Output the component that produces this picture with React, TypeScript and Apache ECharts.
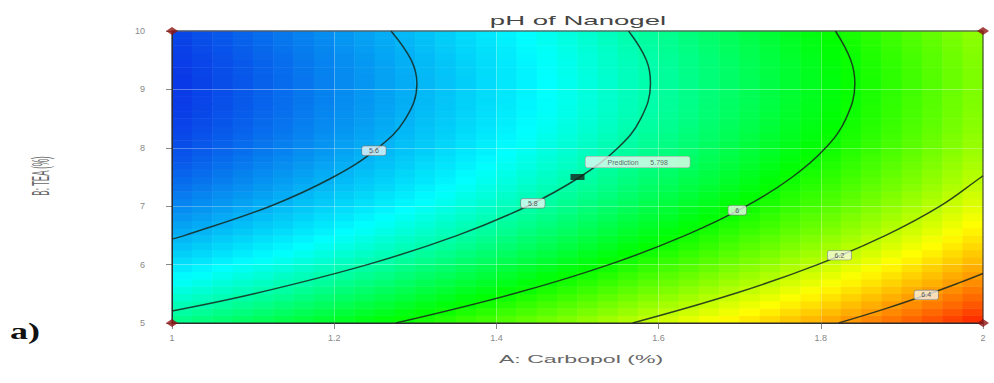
import React, { useEffect, useRef } from 'react';
import * as echarts from 'echarts';

// Cell centres of the response-surface colour field
const carbopolCenters = [1.0125, 1.0375, 1.0625, 1.0875, 1.1125, 1.1375, 1.1625, 1.1875, 1.2125, 1.2375,
  1.2625, 1.2875, 1.3125, 1.3375, 1.3625, 1.3875, 1.4125, 1.4375, 1.4625, 1.4875,
  1.5125, 1.5375, 1.5625, 1.5875, 1.6125, 1.6375, 1.6625, 1.6875, 1.7125, 1.7375,
  1.7625, 1.7875, 1.8125, 1.8375, 1.8625, 1.8875, 1.9125, 1.9375, 1.9625, 1.9875];
const bCenters = [5.0625, 5.1875, 5.3125, 5.4375, 5.5625, 5.6875, 5.8125, 5.9375, 6.0625, 6.1875,
  6.3125, 6.4375, 6.5625, 6.6875, 6.8125, 6.9375, 7.0625, 7.1875, 7.3125, 7.4375,
  7.5625, 7.6875, 7.8125, 7.9375, 8.0625, 8.1875, 8.3125, 8.4375, 8.5625, 8.6875,
  8.8125, 8.9375, 9.0625, 9.1875, 9.3125, 9.4375, 9.5625, 9.6875, 9.8125, 9.9375];

// pH, one row per B centre (bottom to top)
const phRow01 = [5.835, 5.848, 5.862, 5.876, 5.890, 5.904, 5.919, 5.934, 5.949, 5.964, 5.979, 5.995, 6.011, 6.027, 6.044, 6.060, 6.077, 6.094, 6.112, 6.129, 6.147, 6.165, 6.184, 6.202, 6.221, 6.240, 6.259, 6.279, 6.298, 6.318, 6.339, 6.359, 6.380, 6.401, 6.422, 6.443, 6.465, 6.486, 6.509, 6.531];
const phRow02 = [5.810, 5.823, 5.837, 5.851, 5.865, 5.879, 5.894, 5.909, 5.924, 5.939, 5.954, 5.970, 5.986, 6.002, 6.019, 6.035, 6.052, 6.069, 6.087, 6.104, 6.122, 6.140, 6.159, 6.177, 6.196, 6.215, 6.234, 6.254, 6.273, 6.293, 6.314, 6.334, 6.355, 6.376, 6.397, 6.418, 6.440, 6.461, 6.484, 6.506];
const phRow03 = [5.786, 5.799, 5.813, 5.827, 5.841, 5.855, 5.870, 5.885, 5.900, 5.915, 5.930, 5.946, 5.962, 5.978, 5.995, 6.011, 6.028, 6.045, 6.063, 6.080, 6.098, 6.116, 6.135, 6.153, 6.172, 6.191, 6.210, 6.230, 6.249, 6.269, 6.290, 6.310, 6.331, 6.352, 6.373, 6.394, 6.416, 6.437, 6.460, 6.482];
const phRow04 = [5.763, 5.776, 5.790, 5.804, 5.818, 5.832, 5.847, 5.862, 5.877, 5.892, 5.907, 5.923, 5.939, 5.955, 5.972, 5.988, 6.005, 6.022, 6.040, 6.057, 6.075, 6.093, 6.112, 6.130, 6.149, 6.168, 6.187, 6.207, 6.226, 6.246, 6.267, 6.287, 6.308, 6.329, 6.350, 6.371, 6.393, 6.414, 6.437, 6.459];
const phRow05 = [5.741, 5.754, 5.768, 5.782, 5.796, 5.810, 5.825, 5.840, 5.855, 5.870, 5.885, 5.901, 5.917, 5.933, 5.950, 5.966, 5.983, 6.000, 6.018, 6.035, 6.053, 6.071, 6.090, 6.108, 6.127, 6.146, 6.165, 6.185, 6.204, 6.224, 6.245, 6.265, 6.286, 6.307, 6.328, 6.349, 6.371, 6.392, 6.415, 6.437];
const phRow06 = [5.719, 5.732, 5.746, 5.760, 5.774, 5.788, 5.803, 5.818, 5.833, 5.848, 5.863, 5.879, 5.895, 5.911, 5.928, 5.944, 5.961, 5.978, 5.996, 6.013, 6.031, 6.049, 6.068, 6.086, 6.105, 6.124, 6.143, 6.163, 6.182, 6.202, 6.223, 6.243, 6.264, 6.285, 6.306, 6.327, 6.349, 6.370, 6.393, 6.415];
const phRow07 = [5.699, 5.712, 5.726, 5.740, 5.754, 5.768, 5.783, 5.798, 5.813, 5.828, 5.843, 5.859, 5.875, 5.891, 5.908, 5.924, 5.941, 5.958, 5.976, 5.993, 6.011, 6.029, 6.048, 6.066, 6.085, 6.104, 6.123, 6.143, 6.162, 6.182, 6.203, 6.223, 6.244, 6.265, 6.286, 6.307, 6.329, 6.350, 6.373, 6.395];
const phRow08 = [5.679, 5.692, 5.706, 5.720, 5.734, 5.748, 5.763, 5.778, 5.793, 5.808, 5.823, 5.839, 5.855, 5.871, 5.888, 5.904, 5.921, 5.938, 5.956, 5.973, 5.991, 6.009, 6.028, 6.046, 6.065, 6.084, 6.103, 6.123, 6.142, 6.162, 6.183, 6.203, 6.224, 6.245, 6.266, 6.287, 6.309, 6.330, 6.353, 6.375];
const phRow09 = [5.659, 5.672, 5.686, 5.700, 5.714, 5.728, 5.743, 5.758, 5.773, 5.788, 5.803, 5.819, 5.835, 5.851, 5.868, 5.884, 5.901, 5.918, 5.936, 5.953, 5.971, 5.989, 6.008, 6.026, 6.045, 6.064, 6.083, 6.103, 6.122, 6.142, 6.163, 6.183, 6.204, 6.225, 6.246, 6.267, 6.289, 6.310, 6.333, 6.355];
const phRow10 = [5.641, 5.654, 5.668, 5.682, 5.696, 5.710, 5.725, 5.740, 5.755, 5.770, 5.785, 5.801, 5.817, 5.833, 5.850, 5.866, 5.883, 5.900, 5.918, 5.935, 5.953, 5.971, 5.990, 6.008, 6.027, 6.046, 6.065, 6.085, 6.104, 6.124, 6.145, 6.165, 6.186, 6.207, 6.228, 6.249, 6.271, 6.292, 6.315, 6.337];
const phRow11 = [5.623, 5.636, 5.650, 5.664, 5.678, 5.692, 5.707, 5.722, 5.737, 5.752, 5.767, 5.783, 5.799, 5.815, 5.832, 5.848, 5.865, 5.882, 5.900, 5.917, 5.935, 5.953, 5.972, 5.990, 6.009, 6.028, 6.047, 6.067, 6.086, 6.106, 6.127, 6.147, 6.168, 6.189, 6.210, 6.231, 6.253, 6.274, 6.297, 6.319];
const phRow12 = [5.607, 5.620, 5.634, 5.648, 5.662, 5.676, 5.691, 5.706, 5.721, 5.736, 5.751, 5.767, 5.783, 5.799, 5.816, 5.832, 5.849, 5.866, 5.884, 5.901, 5.919, 5.937, 5.956, 5.974, 5.993, 6.012, 6.031, 6.051, 6.070, 6.090, 6.111, 6.131, 6.152, 6.173, 6.194, 6.215, 6.237, 6.258, 6.281, 6.303];
const phRow13 = [5.590, 5.603, 5.617, 5.631, 5.645, 5.659, 5.674, 5.689, 5.704, 5.719, 5.734, 5.750, 5.766, 5.782, 5.799, 5.815, 5.832, 5.849, 5.867, 5.884, 5.902, 5.920, 5.939, 5.957, 5.976, 5.995, 6.014, 6.034, 6.053, 6.073, 6.094, 6.114, 6.135, 6.156, 6.177, 6.198, 6.220, 6.241, 6.264, 6.286];
const phRow14 = [5.575, 5.588, 5.602, 5.616, 5.630, 5.644, 5.659, 5.674, 5.689, 5.704, 5.719, 5.735, 5.751, 5.767, 5.784, 5.800, 5.817, 5.834, 5.852, 5.869, 5.887, 5.905, 5.924, 5.942, 5.961, 5.980, 5.999, 6.019, 6.038, 6.058, 6.079, 6.099, 6.120, 6.141, 6.162, 6.183, 6.205, 6.226, 6.249, 6.271];
const phRow15 = [5.561, 5.574, 5.588, 5.602, 5.616, 5.630, 5.645, 5.660, 5.675, 5.690, 5.705, 5.721, 5.737, 5.753, 5.770, 5.786, 5.803, 5.820, 5.838, 5.855, 5.873, 5.891, 5.910, 5.928, 5.947, 5.966, 5.985, 6.005, 6.024, 6.044, 6.065, 6.085, 6.106, 6.127, 6.148, 6.169, 6.191, 6.212, 6.235, 6.257];
const phRow16 = [5.547, 5.560, 5.574, 5.588, 5.602, 5.616, 5.631, 5.646, 5.661, 5.676, 5.691, 5.707, 5.723, 5.739, 5.756, 5.772, 5.789, 5.806, 5.824, 5.841, 5.859, 5.877, 5.896, 5.914, 5.933, 5.952, 5.971, 5.991, 6.010, 6.030, 6.051, 6.071, 6.092, 6.113, 6.134, 6.155, 6.177, 6.198, 6.221, 6.243];
const phRow17 = [5.534, 5.547, 5.561, 5.575, 5.589, 5.603, 5.618, 5.633, 5.648, 5.663, 5.678, 5.694, 5.710, 5.726, 5.743, 5.759, 5.776, 5.793, 5.811, 5.828, 5.846, 5.864, 5.883, 5.901, 5.920, 5.939, 5.958, 5.978, 5.997, 6.017, 6.038, 6.058, 6.079, 6.100, 6.121, 6.142, 6.164, 6.185, 6.208, 6.230];
const phRow18 = [5.522, 5.535, 5.549, 5.563, 5.577, 5.591, 5.606, 5.621, 5.636, 5.651, 5.666, 5.682, 5.698, 5.714, 5.731, 5.747, 5.764, 5.781, 5.799, 5.816, 5.834, 5.852, 5.871, 5.889, 5.908, 5.927, 5.946, 5.966, 5.985, 6.005, 6.026, 6.046, 6.067, 6.088, 6.109, 6.130, 6.152, 6.173, 6.196, 6.218];
const phRow19 = [5.510, 5.523, 5.537, 5.551, 5.565, 5.579, 5.594, 5.609, 5.624, 5.639, 5.654, 5.670, 5.686, 5.702, 5.719, 5.735, 5.752, 5.769, 5.787, 5.804, 5.822, 5.840, 5.859, 5.877, 5.896, 5.915, 5.934, 5.954, 5.973, 5.993, 6.014, 6.034, 6.055, 6.076, 6.097, 6.118, 6.140, 6.161, 6.184, 6.206];
const phRow20 = [5.499, 5.512, 5.526, 5.540, 5.554, 5.568, 5.583, 5.598, 5.613, 5.628, 5.643, 5.659, 5.675, 5.691, 5.708, 5.724, 5.741, 5.758, 5.776, 5.793, 5.811, 5.829, 5.848, 5.866, 5.885, 5.904, 5.923, 5.943, 5.962, 5.982, 6.003, 6.023, 6.044, 6.065, 6.086, 6.107, 6.129, 6.150, 6.173, 6.195];
const phRow21 = [5.490, 5.503, 5.517, 5.531, 5.545, 5.559, 5.574, 5.589, 5.604, 5.619, 5.634, 5.650, 5.666, 5.682, 5.699, 5.715, 5.732, 5.749, 5.767, 5.784, 5.802, 5.820, 5.839, 5.857, 5.876, 5.895, 5.914, 5.934, 5.953, 5.973, 5.994, 6.014, 6.035, 6.056, 6.077, 6.098, 6.120, 6.141, 6.164, 6.186];
const phRow22 = [5.480, 5.493, 5.507, 5.521, 5.535, 5.549, 5.564, 5.579, 5.594, 5.609, 5.624, 5.640, 5.656, 5.672, 5.689, 5.705, 5.722, 5.739, 5.757, 5.774, 5.792, 5.810, 5.829, 5.847, 5.866, 5.885, 5.904, 5.924, 5.943, 5.963, 5.984, 6.004, 6.025, 6.046, 6.067, 6.088, 6.110, 6.131, 6.154, 6.176];
const phRow23 = [5.472, 5.485, 5.499, 5.513, 5.527, 5.541, 5.556, 5.571, 5.586, 5.601, 5.616, 5.632, 5.648, 5.664, 5.681, 5.697, 5.714, 5.731, 5.749, 5.766, 5.784, 5.802, 5.821, 5.839, 5.858, 5.877, 5.896, 5.916, 5.935, 5.955, 5.976, 5.996, 6.017, 6.038, 6.059, 6.080, 6.102, 6.123, 6.146, 6.168];
const phRow24 = [5.464, 5.477, 5.491, 5.505, 5.519, 5.533, 5.548, 5.563, 5.578, 5.593, 5.608, 5.624, 5.640, 5.656, 5.673, 5.689, 5.706, 5.723, 5.741, 5.758, 5.776, 5.794, 5.813, 5.831, 5.850, 5.869, 5.888, 5.908, 5.927, 5.947, 5.968, 5.988, 6.009, 6.030, 6.051, 6.072, 6.094, 6.115, 6.138, 6.160];
const phRow25 = [5.458, 5.471, 5.485, 5.499, 5.513, 5.527, 5.542, 5.557, 5.572, 5.587, 5.602, 5.618, 5.634, 5.650, 5.667, 5.683, 5.700, 5.717, 5.735, 5.752, 5.770, 5.788, 5.807, 5.825, 5.844, 5.863, 5.882, 5.902, 5.921, 5.941, 5.962, 5.982, 6.003, 6.024, 6.045, 6.066, 6.088, 6.109, 6.132, 6.154];
const phRow26 = [5.452, 5.465, 5.479, 5.493, 5.507, 5.521, 5.536, 5.551, 5.566, 5.581, 5.596, 5.612, 5.628, 5.644, 5.661, 5.677, 5.694, 5.711, 5.729, 5.746, 5.764, 5.782, 5.801, 5.819, 5.838, 5.857, 5.876, 5.896, 5.915, 5.935, 5.956, 5.976, 5.997, 6.018, 6.039, 6.060, 6.082, 6.103, 6.126, 6.148];
const phRow27 = [5.446, 5.459, 5.473, 5.487, 5.501, 5.515, 5.530, 5.545, 5.560, 5.575, 5.590, 5.606, 5.622, 5.638, 5.655, 5.671, 5.688, 5.705, 5.723, 5.740, 5.758, 5.776, 5.795, 5.813, 5.832, 5.851, 5.870, 5.890, 5.909, 5.929, 5.950, 5.970, 5.991, 6.012, 6.033, 6.054, 6.076, 6.097, 6.120, 6.142];
const phRow28 = [5.442, 5.455, 5.469, 5.483, 5.497, 5.511, 5.526, 5.541, 5.556, 5.571, 5.586, 5.602, 5.618, 5.634, 5.651, 5.667, 5.684, 5.701, 5.719, 5.736, 5.754, 5.772, 5.791, 5.809, 5.828, 5.847, 5.866, 5.886, 5.905, 5.925, 5.946, 5.966, 5.987, 6.008, 6.029, 6.050, 6.072, 6.093, 6.116, 6.138];
const phRow29 = [5.438, 5.451, 5.465, 5.479, 5.493, 5.507, 5.522, 5.537, 5.552, 5.567, 5.582, 5.598, 5.614, 5.630, 5.647, 5.663, 5.680, 5.697, 5.715, 5.732, 5.750, 5.768, 5.787, 5.805, 5.824, 5.843, 5.862, 5.882, 5.901, 5.921, 5.942, 5.962, 5.983, 6.004, 6.025, 6.046, 6.068, 6.089, 6.112, 6.134];
const phRow30 = [5.435, 5.448, 5.462, 5.476, 5.490, 5.504, 5.519, 5.534, 5.549, 5.564, 5.579, 5.595, 5.611, 5.627, 5.644, 5.660, 5.677, 5.694, 5.712, 5.729, 5.747, 5.765, 5.784, 5.802, 5.821, 5.840, 5.859, 5.879, 5.898, 5.918, 5.939, 5.959, 5.980, 6.001, 6.022, 6.043, 6.065, 6.086, 6.109, 6.131];
const phRow31 = [5.433, 5.446, 5.460, 5.474, 5.488, 5.502, 5.517, 5.532, 5.547, 5.562, 5.577, 5.593, 5.609, 5.625, 5.642, 5.658, 5.675, 5.692, 5.710, 5.727, 5.745, 5.763, 5.782, 5.800, 5.819, 5.838, 5.857, 5.877, 5.896, 5.916, 5.937, 5.957, 5.978, 5.999, 6.020, 6.041, 6.063, 6.084, 6.107, 6.129];
const phRow32 = [5.432, 5.445, 5.459, 5.473, 5.487, 5.501, 5.516, 5.531, 5.546, 5.561, 5.576, 5.592, 5.608, 5.624, 5.641, 5.657, 5.674, 5.691, 5.709, 5.726, 5.744, 5.762, 5.781, 5.799, 5.818, 5.837, 5.856, 5.876, 5.895, 5.915, 5.936, 5.956, 5.977, 5.998, 6.019, 6.040, 6.062, 6.083, 6.106, 6.128];
const phRow33 = [5.431, 5.444, 5.458, 5.472, 5.486, 5.500, 5.515, 5.530, 5.545, 5.560, 5.575, 5.591, 5.607, 5.623, 5.640, 5.656, 5.673, 5.690, 5.708, 5.725, 5.743, 5.761, 5.780, 5.798, 5.817, 5.836, 5.855, 5.875, 5.894, 5.914, 5.935, 5.955, 5.976, 5.997, 6.018, 6.039, 6.061, 6.082, 6.105, 6.127];
const phRow34 = [5.431, 5.444, 5.458, 5.472, 5.486, 5.500, 5.515, 5.530, 5.545, 5.560, 5.575, 5.591, 5.607, 5.623, 5.640, 5.656, 5.673, 5.690, 5.708, 5.725, 5.743, 5.761, 5.780, 5.798, 5.817, 5.836, 5.855, 5.875, 5.894, 5.914, 5.935, 5.955, 5.976, 5.997, 6.018, 6.039, 6.061, 6.082, 6.105, 6.127];
const phRow35 = [5.432, 5.445, 5.459, 5.473, 5.487, 5.501, 5.516, 5.531, 5.546, 5.561, 5.576, 5.592, 5.608, 5.624, 5.641, 5.657, 5.674, 5.691, 5.709, 5.726, 5.744, 5.762, 5.781, 5.799, 5.818, 5.837, 5.856, 5.876, 5.895, 5.915, 5.936, 5.956, 5.977, 5.998, 6.019, 6.040, 6.062, 6.083, 6.106, 6.128];
const phRow36 = [5.434, 5.447, 5.461, 5.475, 5.489, 5.503, 5.518, 5.533, 5.548, 5.563, 5.578, 5.594, 5.610, 5.626, 5.643, 5.659, 5.676, 5.693, 5.711, 5.728, 5.746, 5.764, 5.783, 5.801, 5.820, 5.839, 5.858, 5.878, 5.897, 5.917, 5.938, 5.958, 5.979, 6.000, 6.021, 6.042, 6.064, 6.085, 6.108, 6.130];
const phRow37 = [5.436, 5.449, 5.463, 5.477, 5.491, 5.505, 5.520, 5.535, 5.550, 5.565, 5.580, 5.596, 5.612, 5.628, 5.645, 5.661, 5.678, 5.695, 5.713, 5.730, 5.748, 5.766, 5.785, 5.803, 5.822, 5.841, 5.860, 5.880, 5.899, 5.919, 5.940, 5.960, 5.981, 6.002, 6.023, 6.044, 6.066, 6.087, 6.110, 6.132];
const phRow38 = [5.440, 5.453, 5.467, 5.481, 5.495, 5.509, 5.524, 5.539, 5.554, 5.569, 5.584, 5.600, 5.616, 5.632, 5.649, 5.665, 5.682, 5.699, 5.717, 5.734, 5.752, 5.770, 5.789, 5.807, 5.826, 5.845, 5.864, 5.884, 5.903, 5.923, 5.944, 5.964, 5.985, 6.006, 6.027, 6.048, 6.070, 6.091, 6.114, 6.136];
const phRow39 = [5.444, 5.457, 5.471, 5.485, 5.499, 5.513, 5.528, 5.543, 5.558, 5.573, 5.588, 5.604, 5.620, 5.636, 5.653, 5.669, 5.686, 5.703, 5.721, 5.738, 5.756, 5.774, 5.793, 5.811, 5.830, 5.849, 5.868, 5.888, 5.907, 5.927, 5.948, 5.968, 5.989, 6.010, 6.031, 6.052, 6.074, 6.095, 6.118, 6.140];
const phRow40 = [5.448, 5.461, 5.475, 5.489, 5.503, 5.517, 5.532, 5.547, 5.562, 5.577, 5.592, 5.608, 5.624, 5.640, 5.657, 5.673, 5.690, 5.707, 5.725, 5.742, 5.760, 5.778, 5.797, 5.815, 5.834, 5.853, 5.872, 5.892, 5.911, 5.931, 5.952, 5.972, 5.993, 6.014, 6.035, 6.056, 6.078, 6.099, 6.122, 6.144];
const phGrid = [phRow01, phRow02, phRow03, phRow04, phRow05, phRow06, phRow07, phRow08, phRow09, phRow10,
  phRow11, phRow12, phRow13, phRow14, phRow15, phRow16, phRow17, phRow18, phRow19, phRow20,
  phRow21, phRow22, phRow23, phRow24, phRow25, phRow26, phRow27, phRow28, phRow29, phRow30,
  phRow31, phRow32, phRow33, phRow34, phRow35, phRow36, phRow37, phRow38, phRow39, phRow40];

// Contour lines (A, B)
const contourLevels = ['5.6', '5.8', '6', '6.2', '6.4'];
const contour1A = [1.270, 1.295, 1.302, 1.288, 1.254, 1.199, 1.121, 1.016, 1.0];
const contour1B = [10, 9.5, 9.1, 8.5, 8, 7.5, 7, 6.5, 6.436];
const contour2A = [1.563, 1.585, 1.590, 1.578, 1.550, 1.503, 1.438, 1.352, 1.241, 1.101, 1.0];
const contour2B = [10, 9.5, 9.1, 8.5, 8, 7.5, 7, 6.5, 6, 5.5, 5.205];
const contour3A = [1.818, 1.837, 1.842, 1.831, 1.806, 1.765, 1.708, 1.633, 1.539, 1.421, 1.276];
const contour3B = [10, 9.5, 9.1, 8.5, 8, 7.5, 7, 6.5, 6, 5.5, 5];
const contour4A = [2.0, 1.998, 1.947, 1.880, 1.796, 1.693, 1.568];
const contour4B = [7.518, 7.5, 7, 6.5, 6, 5.5, 5];
const contour5A = [2.0, 1.973, 1.934, 1.881, 1.822];
const contour5B = [5.847, 5.7, 5.5, 5.25, 5];
const labelA = [1.249, 1.445, 1.697, 1.823, 1.930];
const labelB = [7.95, 7.05, 6.93, 6.16, 5.48];

const designA = [1, 1, 2, 2];
const designB = [5, 10, 5, 10];
const centerA = 1.5;
const centerB = 7.5;
const predictionValue = '5.798';

const xTickLabels = ['1', '1.2', '1.4', '1.6', '1.8', '2'];
const yTickLabels = ['5', '6', '7', '8', '9', '10'];

const FONT = 'Liberation Sans, Arial, sans-serif';

export default function App() {
  const ref = useRef<HTMLDivElement>(null);
  useEffect(() => {
    document.body.style.margin = '0';
    if (!ref.current) return;
    const chart = echarts.init(ref.current, undefined, { renderer: 'svg' });

    const heatData: number[][] = [];
    phGrid.forEach((row, j) => row.forEach((v, i) => heatData.push([i, j, v])));
    const contours = [
      [contour1A, contour1B], [contour2A, contour2B], [contour3A, contour3B],
      [contour4A, contour4B], [contour5A, contour5B],
    ];
    const lineStyle = { color: 'rgba(22,40,30,0.85)', width: 1.5 };

    chart.setOption({
      animation: false,
      grid: { left: 172, right: 11, top: 31, bottom: 60, show: true, z: 5, backgroundColor: 'transparent', borderColor: '#2a2a2a', borderWidth: 1 },
      visualMap: {
        show: false, type: 'continuous', seriesIndex: 0, dimension: 2,
        min: 5.424, max: 6.554,
        inRange: { color: ['#0a35e6', '#00ffff', '#00ff00', '#ffff00', '#ff1e00'] },
      },
      xAxis: [
        {
          type: 'value', min: 1, max: 2, interval: 0.2, z: 2,
          axisLine: { show: true, lineStyle: { color: '#333' } },
          axisTick: { show: true, length: 6, lineStyle: { color: '#888' } },
          axisLabel: { fontSize: 9, color: '#888', margin: 10, fontFamily: FONT,
            formatter: (v: number) => xTickLabels[Math.round((v - 1) / 0.2)] ?? '' },
          splitLine: { show: true, lineStyle: { color: 'rgba(255,255,255,0.3)', width: 1 } },
        },
        { type: 'category', data: carbopolCenters.map(String), show: false },
      ],
      yAxis: [
        {
          type: 'value', min: 5, max: 10, interval: 1, z: 2,
          axisLine: { show: true, lineStyle: { color: '#333' } },
          axisTick: { show: true, length: 6, lineStyle: { color: '#888' } },
          axisLabel: { fontSize: 9, color: '#888', margin: 27, fontFamily: FONT,
            formatter: (v: number) => yTickLabels[Math.round(v - 5)] ?? '' },
          splitLine: { show: true, lineStyle: { color: 'rgba(255,255,255,0.3)', width: 1 } },
        },
        { type: 'category', data: bCenters.map(String), show: false },
      ],
      graphic: [
        { type: 'text', x: 578, y: 21, scaleX: 2.3, z: 10,
          style: { text: 'pH of Nanogel', fontSize: 12, fill: '#444', fontFamily: FONT, align: 'center', verticalAlign: 'middle' } },
        { type: 'text', x: 581, y: 359, scaleX: 2.1, z: 10,
          style: { text: 'A: Carbopol (%)', fontSize: 11, fill: '#666', fontFamily: FONT, align: 'center', verticalAlign: 'middle' } },
        { type: 'text', x: 41, y: 176, rotation: Math.PI / 2, scaleY: 3, z: 10,
          style: { text: 'B: TEA (%)', fontSize: 8, fill: '#666', fontFamily: FONT, align: 'center', verticalAlign: 'middle' } },
        { type: 'text', x: 10, y: 331, scaleX: 1.5, z: 10,
          style: { text: 'a)', fontSize: 24, fontWeight: 'bold', fill: '#111', fontFamily: 'Liberation Serif, DejaVu Serif, serif', align: 'left', verticalAlign: 'middle' } },
      ],
      series: [
        {
          type: 'heatmap', xAxisIndex: 1, yAxisIndex: 1, z: 1,
          data: heatData, itemStyle: { borderWidth: 0 }, emphasis: { disabled: true },
        },
        ...contours.map(([as, bs]) => ({
          type: 'line', xAxisIndex: 0, yAxisIndex: 0, z: 3,
          data: as.map((a, i) => [a, bs[i]]),
          smooth: 0.4, symbol: 'none', lineStyle, clip: true,
        })),
        {
          type: 'scatter', xAxisIndex: 0, yAxisIndex: 0, z: 4,
          data: labelA.map((a, i) => [a, labelB[i], contourLevels[i]]),
          symbolSize: 1, itemStyle: { color: 'transparent' },
          label: {
            show: true, position: 'inside', formatter: (p: any) => p.value[2],
            fontSize: 7, color: '#333', fontFamily: FONT,
            backgroundColor: 'rgba(250,250,250,0.92)', borderColor: '#777', borderWidth: 0.6,
            borderRadius: 2, padding: [1, 7],
          },
        },
        {
          type: 'scatter', xAxisIndex: 0, yAxisIndex: 0, z: 4,
          data: [[centerA, centerB]],
          symbol: 'rect', symbolSize: [14, 6], itemStyle: { color: '#15241b' },
          label: {
            show: true, position: 'right', distance: 1, offset: [0, -15],
            formatter: 'Prediction      ' + predictionValue,
            fontSize: 7, color: '#444', fontFamily: FONT,
            backgroundColor: 'rgba(250,250,250,0.92)', borderColor: '#999', borderWidth: 0.6,
            borderRadius: 2, padding: [2, 22],
          },
        },
        {
          type: 'scatter', xAxisIndex: 0, yAxisIndex: 0, z: 6, clip: false,
          data: designA.map((a, i) => [a, designB[i]]),
          symbol: 'diamond', symbolSize: [12, 8], itemStyle: { color: '#8e1414' },
        },
      ],
    });
    return () => chart.dispose();
  }, []);
  return <div ref={ref} style={{ width: 994, height: 383 }} />;
}
